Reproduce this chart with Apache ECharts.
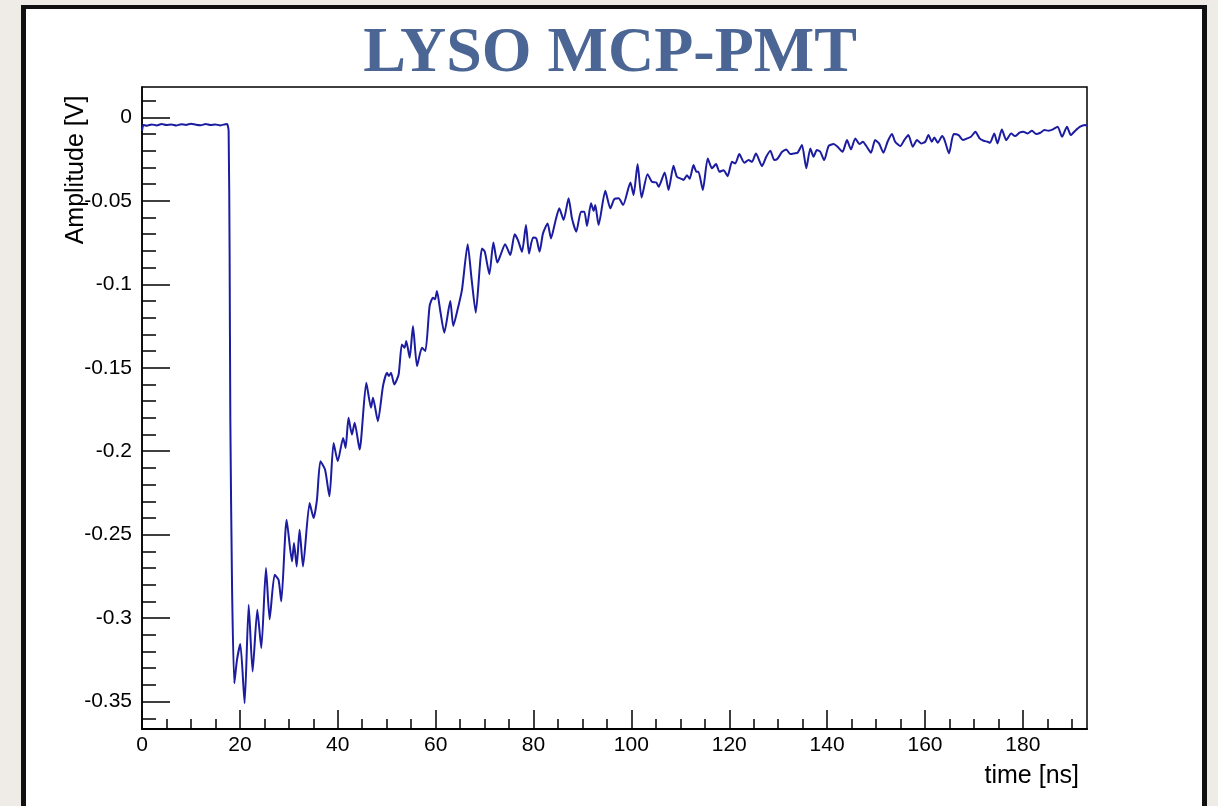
<!DOCTYPE html>
<html>
<head>
<meta charset="utf-8">
<script src="https://cdn.jsdelivr.net/npm/echarts@6/dist/echarts.min.js"></script>
<style>
  html, body { margin: 0; padding: 0; width: 1218px; height: 806px; overflow: hidden; background: #efece7; }
  #panel { position: absolute; left: 21px; top: 5px; width: 1176px; height: 820px; background: #ffffff;
           border-left: 5px solid #111; border-right: 5px solid #111; border-top: 4px solid #111; }
  #chart { position: absolute; left: 0; top: 0; width: 1218px; height: 806px; }
</style>
</head>
<body>
<div id="panel"></div>
<div id="chart"></div>
<script>
// ---- data (time in ns, amplitude in V) ----
const baselineT = [0, 0.3, 1, 2, 3, 4, 5, 6, 7, 8, 9, 10, 11, 12, 13, 14, 15, 16, 17, 17.4];
const baselineV = [-0.008, -0.0045, -0.005, -0.0042, -0.0048, -0.004, -0.0046, -0.0043, -0.0049, -0.0041, -0.0045, -0.0038, -0.0044, -0.0047, -0.004, -0.0046, -0.0042, -0.0048, -0.0041, -0.004];

const edgeT = [17.7, 17.9, 18.05, 18.4, 18.86];
const edgeV = [-0.008, -0.08, -0.181, -0.281, -0.339];

const peakT = [19.41, 20.09, 20.97, 21.8, 22.6, 23.56, 24.38, 25.33, 26.08, 27.1, 27.9, 28.46, 29.55, 30.65, 31.06, 31.6, 32.2, 32.9, 34.25, 35.07, 35.75, 36.45, 37.4, 38.3, 39.15, 40.0, 41.1, 41.6, 42.2, 42.9, 43.45, 44.47, 45.83, 46.8, 47.2, 48.2, 49.24, 50.06, 50.47, 50.88, 51.55, 52.44, 53.1, 53.66, 54.0, 54.7, 55.37, 56.2, 57.2, 57.9, 58.77, 59.45, 59.87, 60.27, 60.95, 61.77, 63.0, 63.6, 64.5, 65.4, 66.55, 67.3, 68.2, 69.47, 70.05, 70.98, 71.8, 72.6, 73.2];
const peakV = [-0.325, -0.3155, -0.351, -0.292, -0.332, -0.295, -0.318, -0.27, -0.3007, -0.274, -0.277, -0.29, -0.241, -0.266, -0.255, -0.269, -0.247, -0.269, -0.231, -0.24, -0.229, -0.206, -0.211, -0.227, -0.195, -0.206, -0.192, -0.198, -0.18, -0.19, -0.183, -0.199, -0.159, -0.174, -0.168, -0.182, -0.161, -0.153, -0.155, -0.153, -0.16, -0.154, -0.136, -0.138, -0.134, -0.144, -0.125, -0.149, -0.138, -0.14, -0.113, -0.108, -0.109, -0.104, -0.116, -0.129, -0.11, -0.125, -0.115, -0.103, -0.076, -0.0955, -0.117, -0.0785, -0.0805, -0.094, -0.075, -0.087, -0.083];

const decayT = [74.2, 75.26, 76.14, 76.82, 77.65, 78.46, 79.08, 79.9, 80.57, 81.24, 81.94, 82.88, 83.57, 84.45, 85.27, 86.15, 87.17, 87.86, 88.74, 89.7, 90.38, 90.93, 91.75, 92.3, 92.62, 93.3, 94.67, 95.7, 96.5, 97.4, 98.3, 99.8, 100.45, 101.27, 102.08, 103.3, 104.2, 105.1, 105.56, 106.8, 107.6, 108.6, 109.3, 110.2, 110.66, 111.36, 111.9, 112.7, 113.3, 113.7, 114.6, 115.6, 116.47, 117.3, 118.0, 118.84, 119.66, 120.55, 121.23, 122.05, 123.07, 123.95, 124.64, 125.46, 126.69, 127.56, 128.4, 129.2, 129.9];
const decayV = [-0.076, -0.0825, -0.07, -0.0735, -0.0805, -0.0645, -0.0815, -0.072, -0.0725, -0.0805, -0.0695, -0.0635, -0.0725, -0.0625, -0.0545, -0.0615, -0.0485, -0.0605, -0.0685, -0.0565, -0.0565, -0.065, -0.0515, -0.056, -0.0525, -0.0645, -0.044, -0.0545, -0.049, -0.0485, -0.0525, -0.039, -0.0465, -0.028, -0.048, -0.034, -0.0386, -0.039, -0.0416, -0.033, -0.0435, -0.029, -0.0356, -0.0368, -0.0375, -0.0346, -0.0368, -0.0286, -0.0326, -0.0326, -0.0435, -0.0246, -0.0305, -0.028, -0.0326, -0.0316, -0.0352, -0.0266, -0.0276, -0.022, -0.0272, -0.0256, -0.0266, -0.0216, -0.0292, -0.0236, -0.02, -0.0256, -0.0246];

const tailT = [130.8, 131.65, 132.47, 133.3, 133.96, 134.86, 135.74, 136.56, 137.23, 137.9, 138.6, 139.4, 140.3, 141.3, 142.13, 143.15, 144.05, 144.87, 145.75, 146.6, 147.3, 148.1, 148.96, 149.8, 150.6, 151.5, 152.35, 153.25, 153.9, 154.95, 155.76, 156.6, 157.5, 158.36, 159.2, 160.05, 160.7, 161.4, 161.9, 162.6, 163.5, 164.0, 164.9, 165.85, 166.86, 167.75, 168.6, 169.4, 170.3, 171.15, 171.96, 172.8, 173.3, 174.15, 174.8, 175.7, 176.6, 177.6, 178.4, 179.3, 180.1, 180.96, 181.86, 182.7, 183.56, 184.4, 185.25, 186.15, 187.1, 188.0, 189.0, 189.8, 190.7, 191.7, 192.7, 193.1];
const tailV = [-0.0206, -0.0192, -0.022, -0.0216, -0.0212, -0.0166, -0.0305, -0.0186, -0.0236, -0.0196, -0.0206, -0.0256, -0.0172, -0.016, -0.0176, -0.0206, -0.0136, -0.0192, -0.0126, -0.016, -0.0146, -0.0176, -0.0212, -0.0136, -0.0156, -0.0212, -0.0146, -0.01, -0.0146, -0.0172, -0.0136, -0.0106, -0.0176, -0.0136, -0.0156, -0.0146, -0.0106, -0.0146, -0.012, -0.0152, -0.0112, -0.0136, -0.0216, -0.01, -0.0106, -0.0136, -0.0126, -0.0116, -0.0086, -0.0126, -0.014, -0.0146, -0.0152, -0.0096, -0.0156, -0.0072, -0.0136, -0.0096, -0.0112, -0.0092, -0.0086, -0.0096, -0.008, -0.01, -0.0092, -0.0076, -0.008, -0.0072, -0.0056, -0.0116, -0.0056, -0.0106, -0.008, -0.0056, -0.0046, -0.005];

// ---- ticks / labels ----
const xMajorTicks = [0, 20, 40, 60, 80, 100, 120, 140, 160, 180];
const xMinorTicks = [5, 10, 15, 25, 30, 35, 45, 50, 55, 65, 70, 75, 85, 90, 95, 105, 110, 115, 125, 130, 135, 145, 150, 155, 165, 170, 175, 185, 190];
const yMajorTicks = [0, -0.05, -0.1, -0.15, -0.2, -0.25, -0.3, -0.35];
const yMinorTicks = [0.01, -0.01, -0.02, -0.03, -0.04, -0.06, -0.07, -0.08, -0.09, -0.11, -0.12, -0.13, -0.14, -0.16, -0.17, -0.18, -0.19, -0.21, -0.22, -0.23, -0.24, -0.26, -0.27, -0.28, -0.29, -0.31, -0.32, -0.33, -0.34, -0.36];

const titleText = 'LYSO MCP-PMT';
const xTitle = 'time [ns]';
const yTitle = 'Amplitude [V]';

const xRange = [0, 193.1];
const yRange = [-0.3664, 0.0182];

// build series points
const allT = [].concat(baselineT, edgeT, peakT, decayT, tailT);
const allV = [].concat(baselineV, edgeV, peakV, decayV, tailV);
const points = allT.map((t, i) => [t, allV[i]]);

const FONT = '"Liberation Sans", Arial, Helvetica, sans-serif';
const chart = echarts.init(document.getElementById('chart'), null, { renderer: 'canvas' });

const baseX = {
  type: 'value', min: xRange[0], max: xRange[1], gridIndex: 0,
  splitLine: { show: false }
};
const baseY = {
  type: 'value', min: yRange[0], max: yRange[1], gridIndex: 0,
  splitLine: { show: false }
};

chart.setOption({
  backgroundColor: 'transparent',
  animation: false,
  grid: { left: 142, top: 87, width: 945, height: 642, show: true, borderColor: '#000', borderWidth: 1.5, backgroundColor: 'transparent' },
  xAxis: [
    Object.assign({}, baseX, {
      position: 'bottom',
      axisLine: { show: true, onZero: false, lineStyle: { color: '#000', width: 2 } },
      axisTick: { show: true, inside: true, length: 19, customValues: xMajorTicks, lineStyle: { color: '#000', width: 1.5 } },
      axisLabel: { show: true, customValues: xMajorTicks, margin: 6, color: '#000', fontSize: 21, fontFamily: FONT,
                   formatter: v => String(v) }
    }),
    Object.assign({}, baseX, {
      position: 'bottom',
      axisLine: { show: false, onZero: false },
      axisTick: { show: true, inside: true, length: 10, customValues: xMinorTicks, lineStyle: { color: '#000', width: 1.5 } },
      axisLabel: { show: false }
    })
  ],
  yAxis: [
    Object.assign({}, baseY, {
      position: 'left',
      axisLine: { show: true, onZero: false, lineStyle: { color: '#000', width: 1.5 } },
      axisTick: { show: true, inside: true, length: 28, customValues: yMajorTicks, lineStyle: { color: '#000', width: 1.5 } },
      axisLabel: { show: true, customValues: yMajorTicks, margin: 10, color: '#000', fontSize: 21, fontFamily: FONT,
                   formatter: v => String(v) }
    }),
    Object.assign({}, baseY, {
      position: 'left',
      axisLine: { show: false, onZero: false },
      axisTick: { show: true, inside: true, length: 14, customValues: yMinorTicks, lineStyle: { color: '#000', width: 1.5 } },
      axisLabel: { show: false }
    })
  ],
  series: [{
    type: 'line',
    xAxisIndex: 0, yAxisIndex: 0,
    data: points,
    showSymbol: false,
    smooth: 0.2,
    lineStyle: { color: '#1c1ca0', width: 2 },
    clip: true
  }],
  graphic: [
    { type: 'text', x: 610, y: 54, style: { text: titleText, fill: '#4b6694', font: 'bold 64px "Liberation Serif", "Times New Roman", serif', align: 'center', verticalAlign: 'middle' } },
    { type: 'text', x: 1079, y: 776, style: { text: xTitle, fill: '#000', font: '25px ' + FONT, align: 'right', verticalAlign: 'middle' } },
    { type: 'text', x: 76, y: 170, rotation: Math.PI / 2, style: { text: yTitle, fill: '#000', font: '25px ' + FONT, align: 'center', verticalAlign: 'middle' } }
  ]
});
</script>
</body>
</html>
